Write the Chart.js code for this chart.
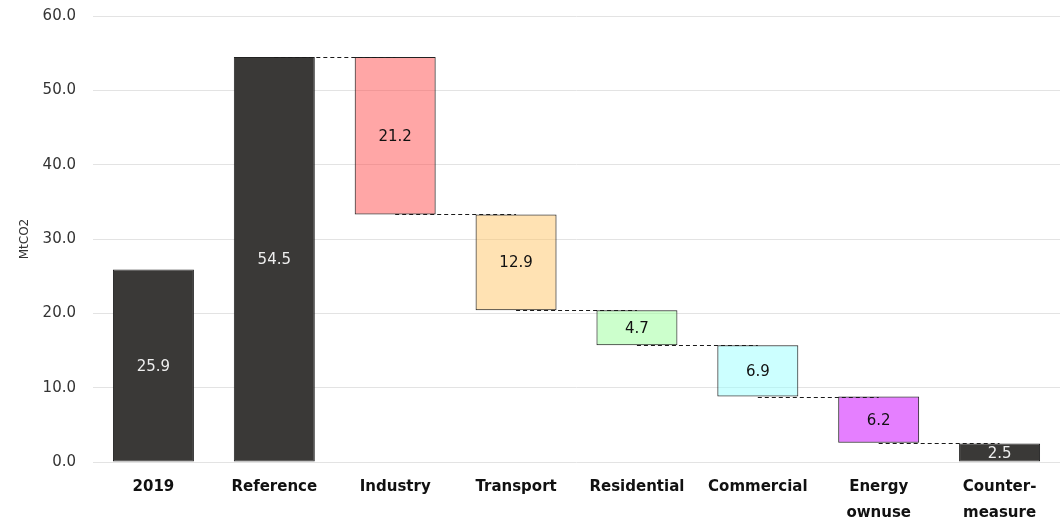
<!DOCTYPE html>
<html>
<head>
<meta charset="utf-8">
<script src="https://cdn.jsdelivr.net/npm/chart.js@4"></script>
<style>
  html, body { margin: 0; padding: 0; background: #fff; }
  #wrap { width: 1060px; height: 519px; }
</style>
</head>
<body>
<div id="wrap"><canvas id="myChart"></canvas></div>
<script>
// datos del grafico
const categorias = ['2019', 'Reference', 'Industry', 'Transport', 'Residential', 'Commercial', ['Energy', 'ownuse'], ['Counter-', 'measure']];
const valores = [25.9, 54.5, 21.2, 12.9, 4.7, 6.9, 6.2, 2.5];
// 'total' = barra desde cero, 'baja' = reduccion desde el acumulado
const tipos = ['total', 'total', 'baja', 'baja', 'baja', 'baja', 'baja', 'total'];
const colores = ['#3a3937', '#3a3937', 'rgba(255,77,77,0.5)', 'rgba(255,197,103,0.5)', 'rgba(153,255,153,0.5)', 'rgba(153,255,255,0.5)', 'rgba(204,0,255,0.5)', '#3a3937'];
const ticksY = [0, 10, 20, 30, 40, 50, 60];

// construir rangos flotantes
const rangos = [];
const niveles = []; // nivel del conector despues de cada barra
let acumulado = 0;
valores.forEach((v, i) => {
  if (tipos[i] === 'total') {
    rangos.push([0, v]);
    acumulado = v;
  } else {
    rangos.push([acumulado - v, acumulado]);
    acumulado = acumulado - v;
  }
  niveles.push(acumulado);
});

const fuente = "'DejaVu Sans', Verdana, sans-serif";

// conectores punteados y etiquetas de valores
const pluginCascada = {
  id: 'cascada',
  afterDatasetsDraw(chart) {
    const ctx = chart.ctx;
    const meta = chart.getDatasetMeta(0);
    const y = chart.scales.y;
    ctx.save();
    ctx.strokeStyle = '#1a1a1a';
    ctx.lineWidth = 1;
    ctx.setLineDash([4, 3]);
    for (let i = 1; i < valores.length - 1; i++) {
      const py = Math.round(y.getPixelForValue(niveles[i])) + 0.5;
      ctx.beginPath();
      ctx.moveTo(meta.data[i].x, py);
      ctx.lineTo(meta.data[i + 1].x, py);
      ctx.stroke();
    }
    ctx.setLineDash([]);
    ctx.font = '15px ' + fuente;
    ctx.textAlign = 'center';
    ctx.textBaseline = 'middle';
    meta.data.forEach((bar, i) => {
      const r = rangos[i];
      const cy = (y.getPixelForValue(r[0]) + y.getPixelForValue(r[1])) / 2;
      ctx.fillStyle = tipos[i] === 'total' ? '#eeeeee' : '#111';
      ctx.fillText(valores[i].toFixed(1), bar.x, cy + 1);
    });
    ctx.restore();
  }
};

const ctx = document.getElementById('myChart').getContext('2d');
const myChart = new Chart(ctx, {
  type: 'bar',
  data: {
    labels: categorias,
    datasets: [{
      data: rangos,
      backgroundColor: colores,
      borderColor: '#222',
      borderWidth: 1,
      borderSkipped: false,
      categoryPercentage: 0.67,
      barPercentage: 1
    }]
  },
  options: {
    responsive: true,
    maintainAspectRatio: false,
    animation: false,
    layout: { padding: { left: 12, right: 0, top: 16, bottom: 0 } },
    plugins: {
      legend: { display: false },
      tooltip: { enabled: false }
    },
    scales: {
      x: {
        grid: { display: false },
        border: { display: false },
        afterFit(scale) { scale.height = 57; },
        ticks: {
          color: '#111',
          font: { family: fuente, size: 15, weight: 'bold', lineHeight: 1.75 },
          maxRotation: 0,
          autoSkip: false,
          padding: 4
        }
      },
      y: {
        min: 0,
        max: 60,
        afterBuildTicks(axis) {
          axis.ticks = ticksY.map(v => ({ value: v }));
        },
        afterFit(scale) {
          scale.width = 81;
          scale.paddingTop = 0;
          scale.paddingBottom = 0;
        },
        grid: { color: '#e3e3e3', lineWidth: 1, drawTicks: false },
        border: { display: false },
        ticks: {
          color: '#333',
          font: { family: fuente, size: 15 },
          padding: 17,
          callback: v => v.toFixed(1)
        },
        title: {
          display: true,
          text: 'MtCO2',
          color: '#333',
          font: { family: fuente, size: 12 },
          padding: { top: 6, bottom: 8 }
        }
      }
    }
  },
  plugins: [pluginCascada]
});
</script>
</body>
</html>
